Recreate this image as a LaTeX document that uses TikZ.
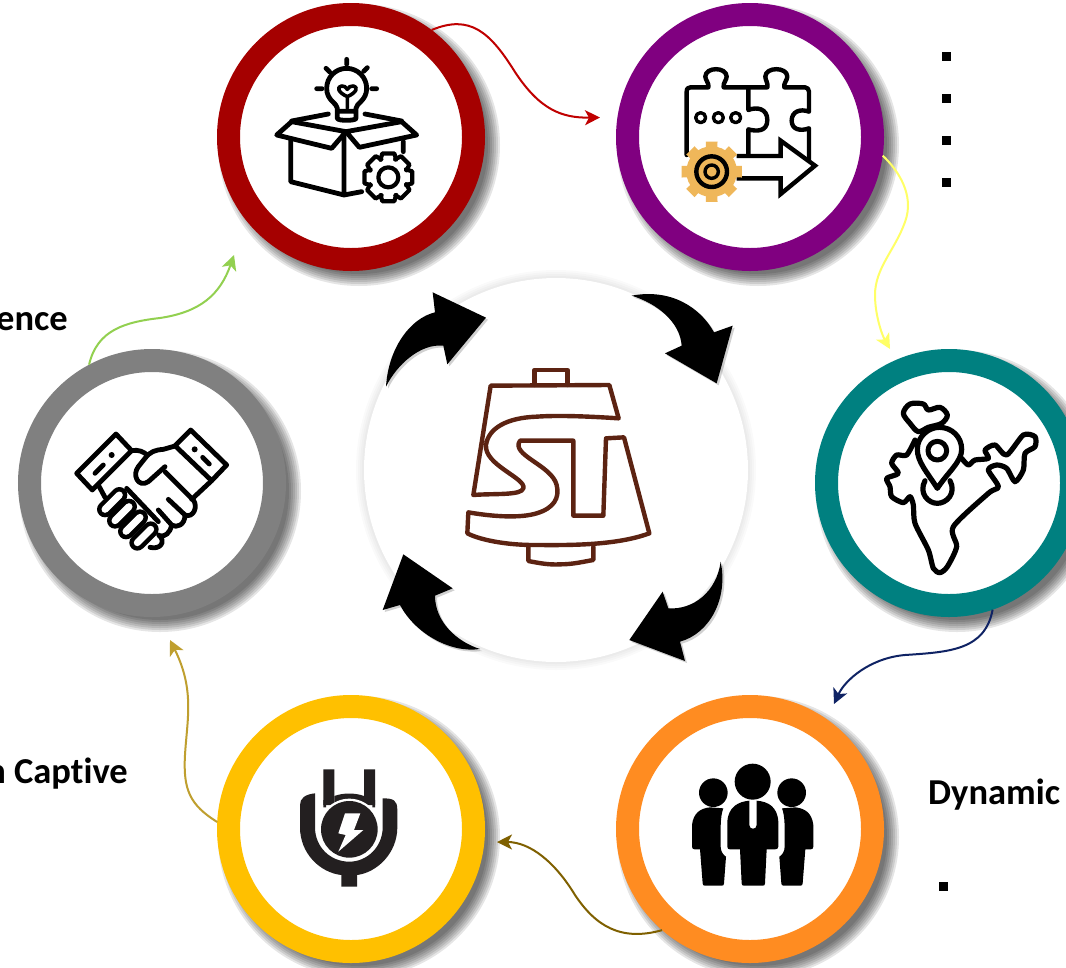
\documentclass[tikz,border=0pt]{standalone}
\usepackage{fontspec}
\setmainfont[Ligatures=CommonOff]{Carlito}
\usetikzlibrary{arrows.meta,shapes.geometric}
\definecolor{cred}{HTML}{A50000}
\definecolor{cpurple}{HTML}{800080}
\definecolor{cteal}{HTML}{008080}
\definecolor{corange}{HTML}{FF8C21}
\definecolor{cyellow}{HTML}{FFC000}
\definecolor{cgray}{HTML}{808080}
\definecolor{brownlogo}{HTML}{5C2312}
\definecolor{gearorange}{HTML}{EFB75A}
\definecolor{plugblack}{HTML}{231F20}
\definecolor{lnred}{HTML}{C00000}
\definecolor{lnyellow}{HTML}{FFFF66}
\definecolor{lnnavy}{HTML}{0F2364}
\definecolor{lnolive}{HTML}{7F6000}
\definecolor{lngold}{HTML}{BF9F2F}
\definecolor{lngreen}{HTML}{92D050}
\tikzset{
 x=1pt,y=-1pt,
 ringnode/.style={circle,draw=#1,fill=white,line width=23pt,minimum size=245pt,inner sep=0pt},
 hubnode/.style={circle,fill=white,minimum size=384pt,inner sep=0pt},
 conn/.style={line width=2pt,draw=#1,-{Stealth[length=15pt,width=15pt,inset=4pt]}},
 textlabel/.style={font=\bfseries\fontsize{36.5}{40}\selectfont,inner sep=0pt,text=black},
 bulletnode/.style={fill=black,minimum size=9pt,inner sep=0pt},
 icon/.style={line width=4.8pt,line cap=round,line join=round,draw=black},
 blackarrow/.style={fill=black},
 logo/.style={draw=brownlogo,line width=4.4pt,line join=round,line cap=round},
}
\newcommand{\softshadow}[2]{%
 \foreach \d in {7,5,3,1,-1,-3,-5}{\fill[black,opacity=.1] (#1,#2) circle[radius=134+\d];}}
\begin{document}
\begin{tikzpicture}
\useasboundingbox (0,0) rectangle (1066,967);
\clip (0,0) rectangle (1066,967);
\fill[white] (0,0) rectangle (1066,967);

% shadows
\softshadow{359}{145}\softshadow{758}{145}\softshadow{957}{491}
\softshadow{758}{837}\softshadow{359}{837}\softshadow{160}{491}
\foreach \d in {8,6,4,2,0}{\fill[black,opacity=.018] (556,470) circle[radius=192+\d];}

% hub and rings
\node[hubnode] (hub) at (556,470) {};
\node[ringnode=cred] (red) at (351,137) {};
\node[ringnode=cpurple] (purple) at (750,137) {};
\node[ringnode=cteal] (teal) at (949,483) {};
\node[ringnode=corange] (orange) at (750,829) {};
\node[ringnode=cyellow] (yellow) at (351,829) {};
\node[ringnode=cgray] (gray) at (152,483) {};

% connector free ends
\coordinate (e1) at (600,117.5);
\coordinate (e2) at (890,349);
\coordinate (e3) at (834,704);
\coordinate (e4) at (497,842);
\coordinate (e5) at (170,640);
\coordinate (e6) at (234,255);
\draw[conn=lnred] (red.53) .. controls (470,14) and (490,32) .. (515,72) .. controls (540,110) and (562,118) .. (e1);
\draw[conn=lnyellow] (purple.-8) .. controls (898,170) and (915,195) .. (905,222) .. controls (895,250) and (875,268) .. (875,295) .. controls (875,315) and (882,335) .. (e2);
\draw[conn=lnnavy] (teal.-71) .. controls (985,650) and (950,652) .. (905,655) .. controls (870,658) and (845,680) .. (e3);
\draw[conn=lnolive] (orange.-131) .. controls (620,942) and (595,925) .. (575,895) .. controls (555,862) and (530,842) .. (e4);
\draw[conn=lngold] (yellow.177) .. controls (190,805) and (183,790) .. (185,755) .. controls (187,720) and (195,690) .. (e5);
\draw[conn=lngreen] (gray.118) .. controls (97,330) and (125,322) .. (160,318) .. controls (200,312) and (220,295) .. (e6);

% text
\node[textlabel,anchor=east] (t1) at (68,322) {ence};
\node[textlabel,anchor=east] (t2) at (128,774) {n Captive};
\node[textlabel,anchor=west] (t3) at (928,795) {Dynamic};
\node[bulletnode] (b1) at (946,56) {};
\node[bulletnode] (b2) at (946,98) {};
\node[bulletnode] (b3) at (946,140) {};
\node[bulletnode] (b4) at (946,182) {};
\node[bulletnode] (b5) at (943,886) {};

% black circular arrows and logo (zoom frame 360,275)
\begin{scope}[shift={(360,275)},x=.33333pt,y=-.33333pt]
\begin{scope}[shift={(6,6)}]
\fill[black,opacity=.18] (78,335) .. controls (85,220) and (150,130) .. (225,112) -- (218,52) -- (378,128) -- (262,268) -- (250,212) .. controls (180,205) and (110,270) .. (78,335) -- cycle;
\fill[black,opacity=.18] (815,62) .. controls (930,40) and (1020,95) .. (1062,172) -- (1118,152) -- (1070,325) -- (915,235) -- (965,212) .. controls (960,140) and (890,85) .. (815,62) -- cycle;
\fill[black,opacity=.18] (1082,860) .. controls (1105,970) and (1050,1075) .. (960,1100) -- (975,1158) -- (808,1095) -- (908,950) -- (925,1000) .. controls (1000,1005) and (1070,950) .. (1082,860) -- cycle;
\fill[black,opacity=.18] (360,1122) .. controls (270,1135) and (165,1075) .. (120,990) -- (68,1005) -- (130,838) -- (278,940) -- (225,962) .. controls (225,1040) and (290,1100) .. (360,1122) -- cycle;
\end{scope}
\fill[blackarrow] (78,335) .. controls (85,220) and (150,130) .. (225,112) -- (218,52) -- (378,128) -- (262,268) -- (250,212) .. controls (180,205) and (110,270) .. (78,335) -- cycle;
\fill[blackarrow] (815,62) .. controls (930,40) and (1020,95) .. (1062,172) -- (1118,152) -- (1070,325) -- (915,235) -- (965,212) .. controls (960,140) and (890,85) .. (815,62) -- cycle;
\fill[blackarrow] (1082,860) .. controls (1105,970) and (1050,1075) .. (960,1100) -- (975,1158) -- (808,1095) -- (908,950) -- (925,1000) .. controls (1000,1005) and (1070,950) .. (1082,860) -- cycle;
\fill[blackarrow] (360,1122) .. controls (270,1135) and (165,1075) .. (120,990) -- (68,1005) -- (130,838) -- (278,940) -- (225,962) .. controls (225,1040) and (290,1100) .. (360,1122) -- cycle;
% logo
\draw[logo] (523,330) -- (523,285) -- (622,285) -- (622,330);
\draw[logo] (392,332) -- (748,330) -- (776,430) .. controls (700,425) and (600,420) .. (530,425) .. controls (440,428) and (385,460) .. (378,510) .. controls (372,570) and (500,610) .. (490,640) .. controls (485,662) and (400,655) .. (340,660) -- cycle;
\draw[logo] (480,497) -- (640,497) -- (640,722) -- (730,722) -- (738,490) -- (792,487) -- (868,775) .. controls (760,815) and (600,810) .. (520,810) .. controls (440,810) and (360,795) .. (322,775) -- (325,712) .. controls (400,725) and (480,730) .. (530,715) .. controls (580,700) and (600,670) .. (590,630) .. controls (575,570) and (450,540) .. (480,497) -- cycle;
\draw[logo] (505,815) -- (505,858) .. controls (540,865) and (570,870) .. (600,868) .. controls (640,868) and (670,860) .. (700,855) -- (700,815);
\end{scope}

% bulb + box icon
\begin{scope}[shift={(260,40)},x=.33333pt,y=-.33333pt]
\draw[icon] (260,58)--(260,73) (198,85)--(209,96) (322,83)--(311,94) (170,146)--(186,146) (335,146)--(350,146);
\draw[icon] (232,205) .. controls (232,190) and (200,182) .. (200,145) arc[start angle=180,end angle=360,radius=60] .. controls (320,182) and (288,190) .. (288,205) -- (288,235) .. controls (288,243) and (232,243) .. (232,235) -- cycle (232,214)--(288,214);
\draw[icon,line width=3.6pt] (262,205) -- (262,170) .. controls (235,158) and (228,140) .. (245,138) .. controls (252,136) and (258,142) .. (262,148) .. controls (266,142) and (272,136) .. (280,138) .. controls (296,140) and (290,158) .. (262,170);
\draw[icon] (95,243)--(205,222) (315,222)--(425,243);
\draw[icon] (50,285)--(95,245)--(258,275)--(215,325)--cycle;
\draw[icon] (258,275)--(425,245)--(470,285)--(298,322)--cycle;
\draw[icon] (92,300)--(92,425)--(252,465)--(252,278) (252,465)--(305,455) (430,305)--(430,335);
\begin{scope}[shift={(385,412)}]
\foreach \a in {0,45,...,315}{\draw[icon,line width=4.2pt] (\a-24:58) -- (\a-14:74) -- (\a+14:74) -- (\a+24:58) -- (\a+45-24:58);}
\draw[icon,line width=4.2pt] (0,0) circle[radius=30];
\end{scope}
\end{scope}

% puzzle icon
\begin{scope}[shift={(660,50)},x=.33333pt,y=-.33333pt]
\draw[icon,line width=4.4pt] (80,315) -- (80,125) .. controls (80,115) and (85,112) .. (92,112) -- (145,112) .. controls (148,100) and (136,90) .. (136,80) .. controls (136,50) and (200,50) .. (200,80) .. controls (200,90) and (188,100) .. (191,112) -- (265,112) -- (322,112) .. controls (325,100) and (316,90) .. (316,80) .. controls (316,50) and (382,50) .. (382,80) .. controls (382,90) and (370,100) .. (373,112) -- (435,112) .. controls (442,112) and (447,118) .. (447,125) -- (447,185) .. controls (420,175) and (395,185) .. (395,212) .. controls (395,238) and (420,245) .. (447,235) -- (447,330);
\draw[icon,line width=4.4pt] (265,112) -- (265,180) .. controls (290,170) and (322,175) .. (322,210) .. controls (322,245) and (290,245) .. (265,238) -- (265,315);
\draw[icon,line width=3.4pt] (122,203) circle[radius=15] (175,203) circle[radius=15] (227,203) circle[radius=15];
\draw[icon,line width=4.4pt,fill=white,line cap=butt,line join=miter] (230,318)--(362,318)--(362,272)--(465,347)--(362,432)--(362,385)--(230,385);
\fill[gearorange] (155,365) circle[radius=76];
\foreach \a in {0,45,...,315}{\fill[gearorange,shift={(155,365)}] (\a-14:70) -- (\a-11:92) -- (\a+11:92) -- (\a+14:70) -- cycle;}
\draw[black,line width=4.4pt] (155,365) circle[radius=46];
\draw[black,line width=3.4pt] (155,365) circle[radius=20];
\end{scope}

% India icon
\begin{scope}[shift={(860,390)},x=.33333pt,y=-.33333pt]
\draw[icon,line width=5.2pt] plot[smooth cycle,tension=.55] coordinates {(130,70)(150,42)(190,42)(205,60)(240,52)(262,75)(245,100)(205,112)(175,125)(150,100)};
\draw[icon,line width=5.2pt] plot[smooth,tension=.45] coordinates {(165,150)(140,195)(110,195)(95,220)(115,250)(80,265)(90,290)(95,320)(130,338)(150,320)(160,345)(165,400)(205,480)(220,535)(240,548)(262,530)(290,470)(280,410)(385,310)(415,290)(385,240)(410,225)(440,235)(465,275)(490,240)(495,190)(525,170)(525,140)(490,135)(440,195)(405,165)(375,180)(385,205)(345,210)(325,225)(305,205)};
\draw[icon,line width=5.2pt,fill=white] (195,272) .. controls (175,310) and (205,340) .. (232,340) .. controls (260,340) and (290,310) .. (270,272);
\draw[icon,line width=5.2pt,fill=white] (232,295) .. controls (200,245) and (172,215) .. (172,178) .. controls (172,140) and (205,112) .. (238,112) .. controls (275,112) and (305,140) .. (305,178) .. controls (305,215) and (265,245) .. (232,295) -- cycle;
\draw[icon,line width=5pt] (232,182) circle[radius=28];
\end{scope}

% people icon
\begin{scope}[shift={(670,750)},x=.33333pt,y=-.33333pt]
\fill[black] (248,95) circle[radius=54] (130,128) circle[radius=43] (365,128) circle[radius=43];
\fill[black] (172,290) -- (172,215) .. controls (175,170) and (205,155) .. (238,152) -- (238,225) .. controls (238,240) and (260,240) .. (260,225) -- (260,152) .. controls (295,155) and (322,170) .. (325,215) -- (325,290) .. controls (325,296) and (320,298) .. (315,298) -- (290,298) -- (285,400) .. controls (285,405) and (283,407) .. (278,407) -- (222,407) .. controls (217,407) and (215,405) .. (215,400) -- (210,298) -- (180,298) .. controls (175,298) and (172,296) .. (172,290) -- cycle;
\fill[black] (66,290) -- (66,225) .. controls (70,190) and (90,175) .. (120,172) -- (160,175) .. controls (150,200) and (152,240) .. (152,290) .. controls (152,305) and (160,315) .. (168,320) -- (162,400) .. controls (162,405) and (160,407) .. (155,407) -- (105,407) .. controls (100,407) and (98,405) .. (98,400) -- (90,298) -- (74,298) .. controls (70,298) and (66,296) .. (66,290) -- cycle;
\fill[black] (430,290) -- (430,225) .. controls (426,190) and (406,175) .. (376,172) -- (336,175) .. controls (346,200) and (344,240) .. (344,290) .. controls (344,305) and (336,315) .. (328,320) -- (334,400) .. controls (334,405) and (336,407) .. (341,407) -- (391,407) .. controls (396,407) and (398,405) .. (398,400) -- (406,298) -- (422,298) .. controls (426,298) and (430,296) .. (430,290) -- cycle;
\end{scope}

% plug icon
\begin{scope}[shift={(280,750)},x=.33333pt,y=-.33333pt]
\fill[plugblack] (130,58) rectangle (163,165) (252,58) rectangle (285,165);
\fill[plugblack] (163,138) .. controls (190,128) and (225,128) .. (252,138) -- (252,160) -- (163,160) -- cycle;
\fill[white] (208,238) circle[radius=92];
\fill[plugblack] (208,238) circle[radius=85];
\fill[plugblack] (130,150) rectangle (138,172) (277,150) rectangle (285,172);
\fill[plugblack] (60,165) .. controls (60,145) and (75,133) .. (105,130) -- (105,232) .. controls (105,290) and (150,335) .. (208,335) .. controls (262,335) and (308,290) .. (308,232) -- (308,145) .. controls (340,145) and (352,150) .. (352,180) -- (352,232) .. controls (352,310) and (290,368) .. (231,375) -- (231,410) -- (184,410) -- (184,375) .. controls (120,368) and (60,310) .. (60,232) -- cycle;
\fill[white] (195,190) -- (241,190) -- (222,240) -- (250,240) -- (175,305) -- (197,255) -- (175,250) -- cycle;
\end{scope}

% handshake icon
\begin{scope}[shift={(60,410)},x=.33333pt,y=-.33333pt]
\draw[icon] (50,190)--(168,72)--(215,122)--(97,240)--cycle;
\draw[icon] (500,165)--(392,60)--(345,107)--(455,212)--cycle;
\draw[icon] (105,190)--(130,165) (428,142)--(448,162);
\fill[black] (155,135) circle[radius=9] (404,118) circle[radius=9];
\draw[icon] (215,122) .. controls (235,118) and (250,125) .. (262,135);
\draw[icon] (345,108) -- (310,118) .. controls (285,120) and (270,125) .. (255,145) -- (235,170) .. controls (215,195) and (235,235) .. (265,215) -- (315,170);
\draw[icon] (315,185) -- (400,270) .. controls (415,290) and (400,325) .. (375,315) -- (325,268);
\draw[icon] (375,315) .. controls (375,345) and (350,355) .. (335,345) -- (295,300);
\draw[icon] (115,225)--(135,262) (455,212)--(395,268) (200,235)--(295,335) (335,345) .. controls (330,370) and (315,380) .. (300,378);
\foreach \sx/\sy/\ex/\ey in {178/255/135/298, 207/290/165/332, 240/322/198/364, 272/358/232/398}{
 \draw[black,line width=16pt,line cap=round] (\sx,\sy)--(\ex,\ey);
 \draw[white,line width=7pt,line cap=round] (\sx,\sy)--(\ex,\ey);}
\draw[icon] (296,375) .. controls (320,395) and (300,420) .. (270,412);
\end{scope}
\end{tikzpicture}
\end{document}
